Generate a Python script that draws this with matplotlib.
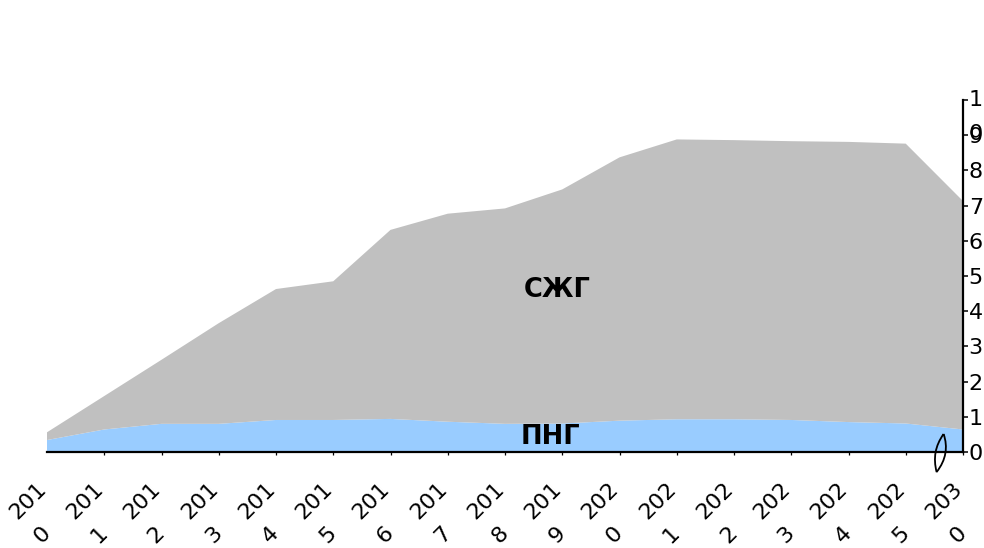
import matplotlib
matplotlib.use("Agg")
import matplotlib.pyplot as plt
import matplotlib.transforms as mtransforms
from matplotlib.path import Path
from matplotlib.patches import PathPatch

plt.rcParams['font.family'] = ['DejaVu Sans']

# Categories (years) and stacked series values
years = ['2010', '2011', '2012', '2013', '2014', '2015', '2016', '2017',
         '2018', '2019', '2020', '2021', '2022', '2023', '2024', '2025', '2030']
png = [0.34, 0.64, 0.80, 0.80, 0.91, 0.91, 0.94, 0.86, 0.80, 0.81,
       0.89, 0.93, 0.93, 0.91, 0.85, 0.81, 0.64]
szhg = [0.22, 0.95, 1.82, 2.86, 3.72, 3.94, 5.37, 5.91, 6.12, 6.65,
        7.48, 7.95, 7.93, 7.92, 7.96, 7.95, 6.49]
y_ticks = list(range(0, 11))

W, H = 984, 548
fig = plt.figure(figsize=(W / 100, H / 100), dpi=100)
ax = fig.add_axes([47 / W, 1 - 452 / H, 916 / W, 352 / H])

x = list(range(len(years)))
ax.stackplot(x, png, szhg, colors=['#99CCFF', '#C0C0C0'], linewidth=0)

ax.set_xlim(0, len(years) - 1)
ax.set_ylim(0, 10)

for side in ('left', 'top'):
    ax.spines[side].set_visible(False)
for side in ('bottom', 'right'):
    ax.spines[side].set_linewidth(1.6)
    ax.spines[side].set_color('black')
    ax.spines[side].set_zorder(5)

# x ticks: small marks, labels drawn separately as wrapped rotated text
ax.set_xticks(x[1:])
ax.set_xticklabels([])
ax.tick_params(axis='x', direction='out', length=2.5, width=0.9, color='black')

label_trans = mtransforms.offset_copy(ax.get_xaxis_transform(), fig,
                                      x=-7, y=-61, units='dots')
for xi, yr in zip(x, years):
    ax.text(xi, 0, yr[:3] + '\n' + yr[3:], transform=label_trans,
            rotation=45, rotation_mode='anchor', ha='center', va='center',
            multialignment='left', linespacing=1.85, fontsize=16,
            clip_on=False)

# y axis on the right
ax.yaxis.tick_right()
ax.set_yticks(y_ticks)
ax.set_yticklabels([str(v) if v < 10 else '' for v in y_ticks])
ax.tick_params(axis='y', direction='out', length=3.6, width=1.1,
               pad=0.5, labelsize=16, color='black')
top_trans = mtransforms.offset_copy(ax.get_yaxis_transform(), fig,
                                    x=6, y=10, units='dots')
ax.text(1, 10, '1\n0', transform=top_trans, ha='left', va='top',
        fontsize=16, linespacing=1.9, clip_on=False)

# series names inside the areas
ax.text(0.557, 0.46, 'СЖГ', transform=ax.transAxes, ha='center',
        va='center', fontsize=18.5, fontweight='bold')
ax.text(0.550, 0.043, 'ПНГ', transform=ax.transAxes, ha='center',
        va='center', fontsize=18.5, fontweight='bold')

# axis break symbol between 2025 and 2030
verts = [(3.5, 18), (-5, 6), (-7, -6), (-3.5, -20),
         (6, -8), (8, 5), (3.5, 18)]
codes = [Path.MOVETO, Path.CURVE4, Path.CURVE4, Path.CURVE4,
         Path.CURVE4, Path.CURVE4, Path.CURVE4]
brk_trans = mtransforms.Affine2D() + mtransforms.ScaledTranslation(
    15.6, 0, ax.get_xaxis_transform())
ax.add_patch(PathPatch(Path(verts, codes), transform=brk_trans,
                       facecolor='none', edgecolor='black', lw=1.3,
                       zorder=6, clip_on=False))

fig.savefig('out.png', dpi=100)
